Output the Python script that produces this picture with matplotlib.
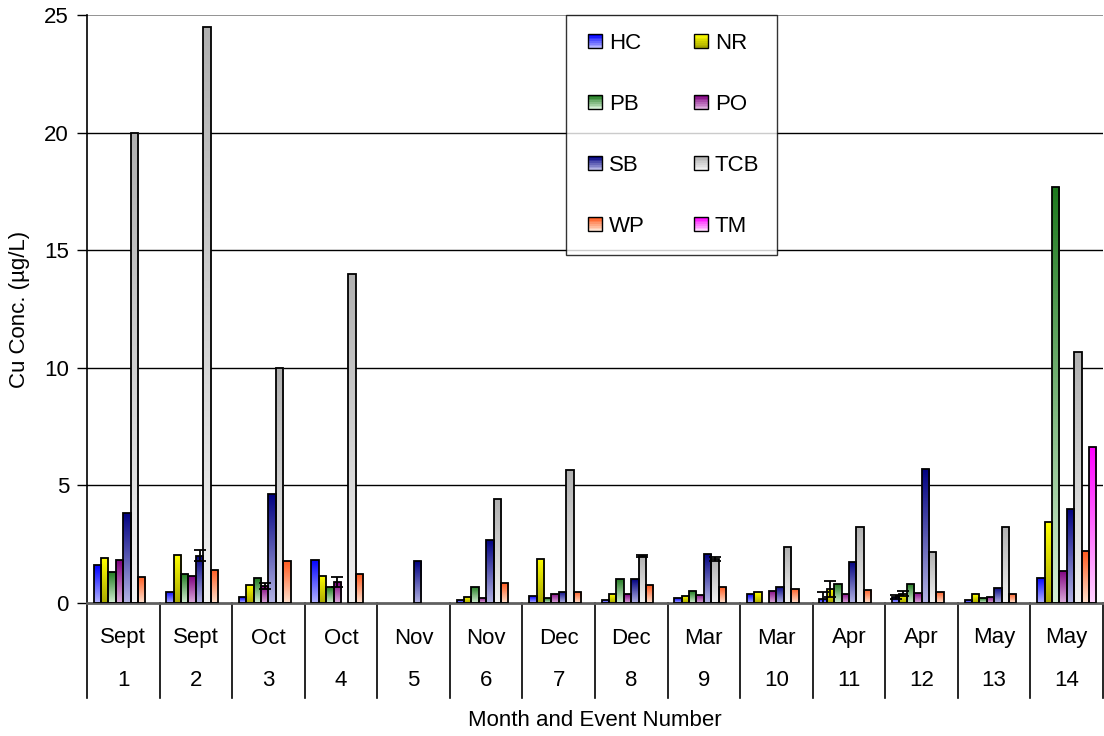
import numpy as np
import matplotlib
matplotlib.use("Agg")
import matplotlib.pyplot as plt
from matplotlib.colors import LinearSegmentedColormap
from matplotlib.patches import Rectangle
from matplotlib.legend_handler import HandlerBase

plt.rcParams['font.family'] = ['Liberation Sans', 'DejaVu Sans']

nan = np.nan
months = ['Sept', 'Sept', 'Oct', 'Oct', 'Nov', 'Nov', 'Dec', 'Dec',
          'Mar', 'Mar', 'Apr', 'Apr', 'May', 'May']
events = [str(i) for i in range(1, 15)]
series = ['HC', 'NR', 'PB', 'PO', 'SB', 'TCB', 'WP', 'TM']

HC = [1.6, 0.48, 0.24, 1.84, nan, 0.11, 0.28, 0.14, 0.2, 0.37, 0.17, 0.25, 0.11, 1.08]
NR = [1.91, 2.05, 0.78, 1.16, nan, 0.27, 1.88, 0.37, 0.3, 0.45, 0.6, 0.4, 0.38, 3.44]
PB = [1.32, 1.25, 1.05, 0.68, nan, 0.69, 0.2, 1.03, 0.51, nan, 0.82, 0.81, 0.2, 17.7]
PO = [1.81, 1.13, 0.72, 0.89, nan, 0.23, 0.4, 0.38, 0.35, 0.52, 0.4, 0.43, 0.26, 1.37]
SB = [3.83, 2.01, 4.63, nan, 1.77, 2.68, 0.48, 1.02, 2.1, 0.69, 1.76, 5.71, 0.64, 4.01]
TCB = [20.0, 24.5, 10.0, 14.0, nan, 4.42, 5.67, 2.01, 1.87, 2.38, 3.24, 2.15, 3.24, 10.69]
WP = [1.12, 1.42, 1.77, 1.23, nan, 0.85, 0.48, 0.75, 0.68, 0.61, 0.57, 0.48, 0.4, 2.19]
TM = [nan] * 13 + [6.63]

# error bars (only a few events have them)
HC_err = [0] * 10 + [0.3, 0.09, 0, 0]
NR_err = [0] * 10 + [0.33, 0.11, 0, 0]
PO_err = [0, 0, 0.12, 0.21] + [0] * 10
SB_err = [0, 0.23] + [0] * 12
TCB_err = [0] * 7 + [0.05, 0.1] + [0] * 5

values = [HC, NR, PB, PO, SB, TCB, WP, TM]
errors = [HC_err, NR_err, None, PO_err, SB_err, TCB_err, None, None]

# (bottom colour, top colour) of each gradient fill
colors = [('#b4b4ff', '#0000ff'), ('#a8a800', '#ffff00'), ('#d4eed4', '#1e7a1e'),
          ('#dcaedc', '#800080'), ('#b4b4e4', '#000080'), ('#f2f2f2', '#b0b0b0'),
          ('#ffe2cf', '#ff5a1e'), ('#ffd4ff', '#ff00ff')]

FS = 16

fig = plt.figure(figsize=(11.04, 7.36), dpi=100)
ax = fig.add_axes([87 / 1104, 133 / 736, 1016 / 1104, 588 / 736])

x = np.arange(len(months))
w = 0.102
grad = np.linspace(0, 1, 128).reshape(-1, 1)

for k, (name, vals) in enumerate(zip(series, values)):
    xs = x + (k - 3.5) * w
    v = np.array(vals, dtype=float)
    bars = ax.bar(xs, v, width=w, facecolor='none', edgecolor='black',
                  linewidth=1.3, zorder=3)
    cmap = LinearSegmentedColormap.from_list(name, list(colors[k]))
    for rect, val in zip(bars, v):
        if np.isnan(val):
            continue
        im = ax.imshow(grad, cmap=cmap, origin='lower', aspect='auto',
                       extent=(rect.get_x(), rect.get_x() + rect.get_width(), 0, val),
                       zorder=2, interpolation='bilinear')
        im.set_clip_path(rect)
    if errors[k] is not None:
        e = np.array(errors[k], dtype=float)
        m = e > 0
        ax.errorbar(xs[m], v[m], yerr=e[m], fmt='none', ecolor='black',
                    elinewidth=1.3, capsize=4, capthick=1.3, zorder=4)

ax.set_xlim(-0.5, len(months) - 0.5)
ax.set_ylim(0, 25)
ax.set_yticks([0, 5, 10, 15, 20, 25])
ax.tick_params(axis='y', labelsize=FS, length=7, width=1, direction='out', pad=6)
ax.set_xticks([])
for yv in [5, 10, 15, 20]:
    ax.axhline(yv, color='black', lw=1, zorder=1)
ax.axhline(25, color='#808080', lw=1.2, zorder=1)

for s in ['top', 'right']:
    ax.spines[s].set_visible(False)
ax.spines['left'].set_linewidth(1.2)
ax.spines['bottom'].set_color('#606060')
ax.spines['bottom'].set_linewidth(2)

# two-level category axis
tr = ax.get_xaxis_transform()
for i in range(len(months)):
    ax.text(i, -35 / 588, months[i], transform=tr, ha='center', va='center', fontsize=FS)
    ax.text(i, -77 / 588, events[i], transform=tr, ha='center', va='center', fontsize=FS)
for b in np.arange(-0.5, len(months), 1.0):
    ax.plot([b, b], [0, -95 / 588], transform=tr, color='black', lw=1.2, clip_on=False)

ax.set_xlabel('Month and Event Number', fontsize=FS)
ax.xaxis.set_label_coords(0.5, -0.182)
ax.set_ylabel('Cu Conc. (µg/L)', fontsize=FS)
ax.yaxis.set_label_coords(-0.056, 0.5)


class GradHandler(HandlerBase):
    def __init__(self, c_bot, c_top):
        super().__init__()
        self.cmap = LinearSegmentedColormap.from_list('h', [c_bot, c_top])

    def create_artists(self, legend, orig_handle, xdescent, ydescent, width, height, fontsize, trans):
        s = 14 * 72 / 100
        x0 = -xdescent + (width - s) / 2
        y0 = -ydescent + (height - s) / 2
        arts = []
        n = 8
        for j in range(n):
            r = Rectangle((x0, y0 + j * s / n), s, s / n, facecolor=self.cmap(j / (n - 1)),
                          edgecolor='none', transform=trans)
            arts.append(r)
        arts.append(Rectangle((x0, y0), s, s, facecolor='none', edgecolor='black',
                              lw=1, transform=trans))
        return arts


handles = [Rectangle((0, 0), 1, 1) for _ in series]
order = [0, 2, 4, 6, 1, 3, 5, 7]
hmap = {handles[k]: GradHandler(*colors[k]) for k in range(len(series))}
leg = ax.legend([handles[k] for k in order], [series[k] for k in order], ncol=2,
                handler_map=hmap, loc='upper left',
                bbox_to_anchor=(566 / 1104, 1 - 15 / 736), bbox_transform=fig.transFigure,
                borderaxespad=0, fontsize=FS, frameon=True, fancybox=False,
                labelspacing=1.8, handlelength=1.0, handletextpad=0.12,
                columnspacing=2.05, borderpad=0.8)
leg.get_frame().set_edgecolor('black')
leg.get_frame().set_linewidth(1)
leg.set_zorder(10)

fig.savefig('out.png', dpi=100)
